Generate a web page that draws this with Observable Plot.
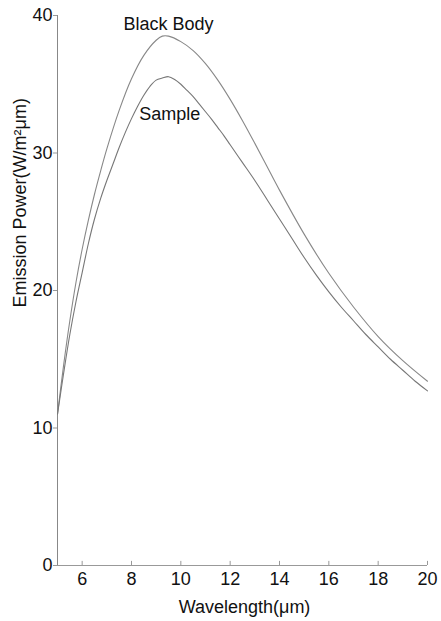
<!DOCTYPE html>
<html>
<head>
<meta charset="utf-8">
<script src="https://cdn.jsdelivr.net/npm/d3@7"></script>
<script src="https://cdn.jsdelivr.net/npm/@observablehq/plot@0.6"></script>
<style>
  html, body { margin: 0; padding: 0; background: #fff; }
</style>
</head>
<body>
<div id="chart"></div>
<script>
const xTicks = [6, 8, 10, 12, 14, 16, 18, 20];
const yTicks = [0, 10, 20, 30, 40];

const bbWave = [5, 5.25, 5.5, 5.75, 6, 6.25, 6.5, 6.75, 7, 7.5, 8, 8.5, 9, 9.25, 9.5, 10, 10.5, 11, 11.5, 12, 12.5, 13, 13.5, 14, 15, 16, 17, 18, 19, 20];
const bbPower = [11.0, 14.6, 17.8, 20.6, 23.0, 25.1, 27.0, 28.7, 30.3, 33.1, 35.4, 37.1, 38.2, 38.5, 38.5, 38.1, 37.45, 36.5, 35.3, 33.9, 32.35, 30.7, 29.0, 27.3, 24.1, 21.25, 18.8, 16.65, 14.9, 13.4];

const sWave = [5, 5.25, 5.5, 5.75, 6, 6.25, 6.5, 6.75, 7, 7.25, 7.5, 7.75, 8, 8.25, 8.5, 8.75, 9, 9.25, 9.5, 9.75, 10, 10.25, 10.5, 10.75, 11, 11.25, 11.5, 11.75, 12, 12.5, 13, 13.5, 14, 14.5, 15, 15.5, 16, 16.5, 17, 17.5, 18, 18.5, 19, 19.5, 20];
const sPower = [11.0, 14.0, 16.8, 19.2, 21.3, 23.4, 25.2, 26.7, 28.0, 29.2, 30.4, 31.5, 32.5, 33.4, 34.2, 34.85, 35.3, 35.45, 35.55, 35.35, 35.0, 34.55, 34.1, 33.55, 33.0, 32.45, 31.85, 31.25, 30.6, 29.3, 28.0, 26.6, 25.2, 23.8, 22.4, 21.1, 19.9, 18.8, 17.8, 16.8, 15.9, 15.0, 14.2, 13.4, 12.7];

const seriesNames = ["Black Body", "Sample"];
const labelX = [9.5, 9.55];
const labelY = [39.4, 32.8];

const xLabel = "Wavelength(μm)";
const yLabel = "Emission Power(W/m²μm)";

const bb = bbWave.map((w, i) => ({w, v: bbPower[i]}));
const sample = sWave.map((w, i) => ({w, v: sPower[i]}));
const labels = seriesNames.map((t, i) => ({t, x: labelX[i], y: labelY[i]}));

const chart = Plot.plot({
  width: 441,
  height: 621,
  marginLeft: 57,
  marginRight: 14,
  marginTop: 15,
  marginBottom: 56,
  style: {fontFamily: "'Liberation Sans', Arial, sans-serif", fontSize: "18px", background: "#fff", color: "#111"},
  x: {domain: [5, 20]},
  y: {domain: [0, 40]},
  marks: [
    Plot.axisY({ticks: yTicks, tickSize: 4, tickPadding: 1, label: null, fontSize: 18, stroke: "#999"}),
    Plot.axisX({ticks: xTicks, tickSize: 0, tickPadding: 7, label: null, fontSize: 18}),
    Plot.ruleX(xTicks, {y1: 0, y2: 0.3, stroke: "#999"}),
    Plot.ruleY([0], {stroke: "#999"}),
    Plot.ruleX([5], {stroke: "#888"}),
    Plot.line(bb, {x: "w", y: "v", stroke: "#888", strokeWidth: 1.1, curve: "catmull-rom"}),
    Plot.line(sample, {x: "w", y: "v", stroke: "#777", strokeWidth: 1.1, curve: "catmull-rom"}),
    Plot.text(labels, {x: "x", y: "y", text: "t", fontSize: 18, fill: "#111"}),
    Plot.text([yLabel], {text: d => d, frameAnchor: "left", rotate: -90, dx: -37, dy: 17, fontSize: 18, fill: "#111"}),
    Plot.text([xLabel], {text: d => d, frameAnchor: "bottom", dx: 2, dy: 47, fontSize: 18, fill: "#111"})
  ]
});
document.getElementById("chart").appendChild(chart);
</script>
</body>
</html>
